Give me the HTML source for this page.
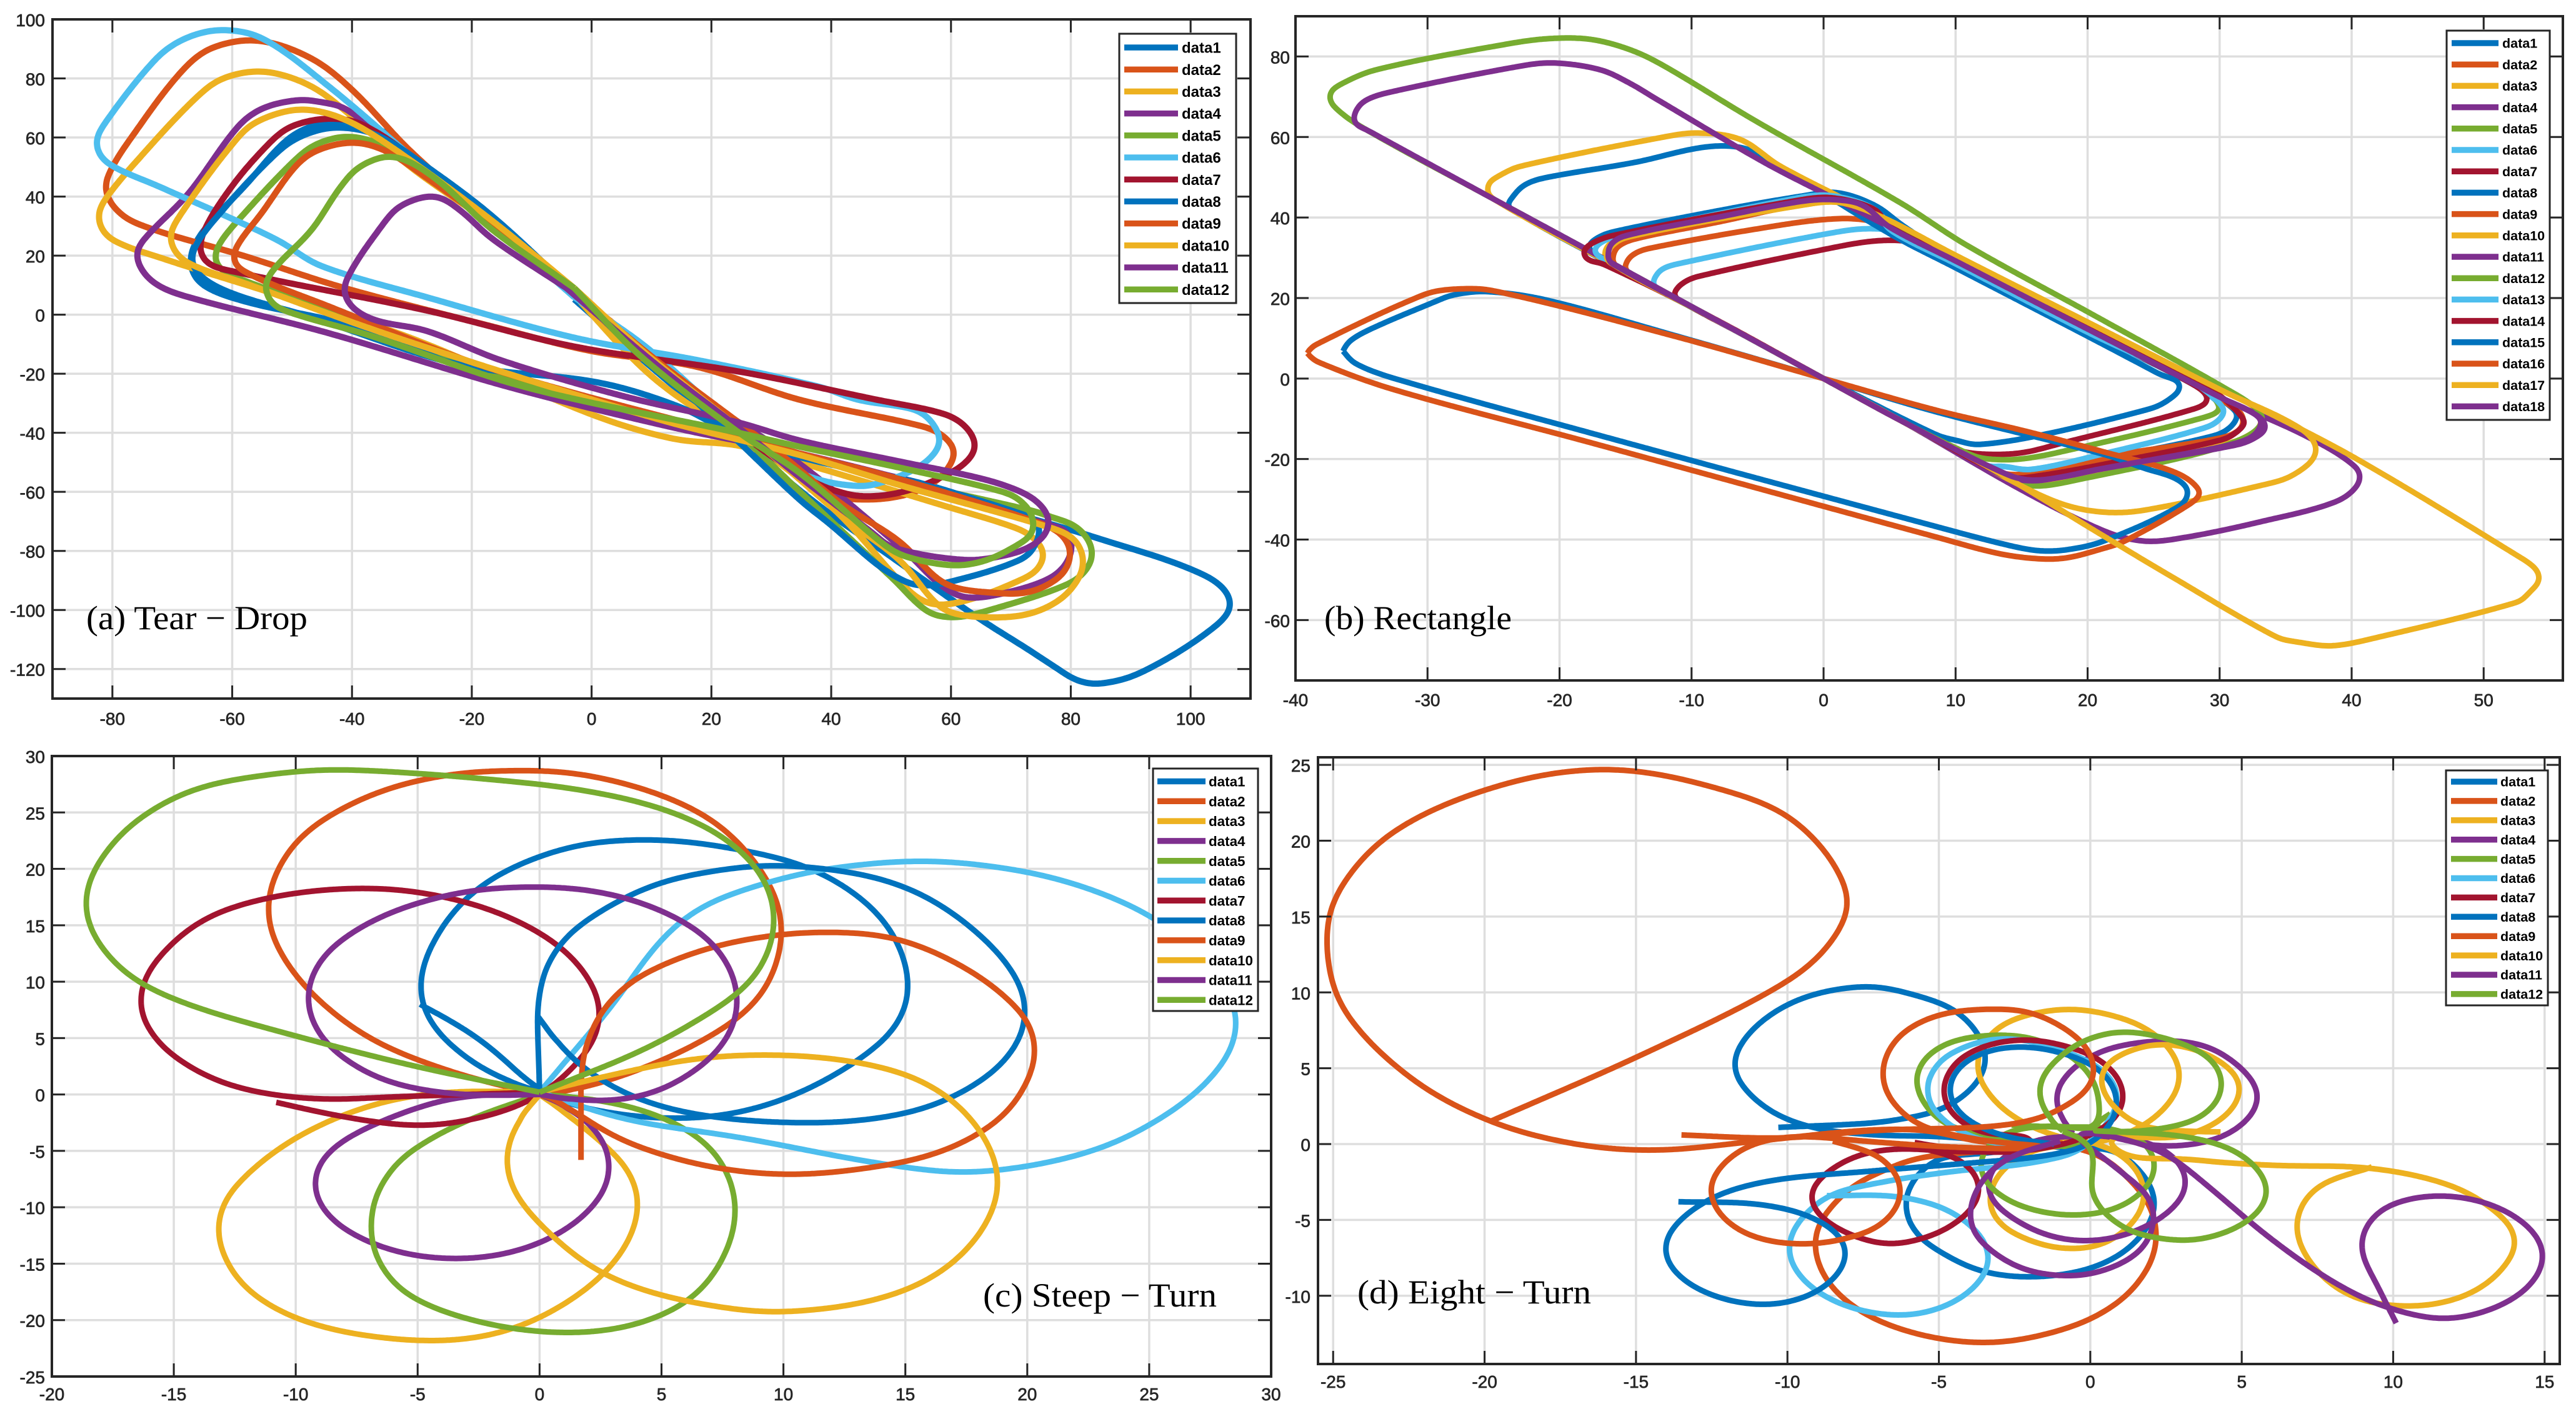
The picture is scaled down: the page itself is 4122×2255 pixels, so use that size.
<!DOCTYPE html>
<html lang="en">
<head>
<meta charset="utf-8">
<title>Flight trajectories: tear-drop, rectangle, steep turn and eight turn</title>
<style>
html,body{margin:0;padding:0;background:#fff;}
svg{display:block;}
.tick{font-family:"Liberation Sans",sans-serif;font-weight:400;font-size:28px;fill:#262626;stroke:#262626;stroke-width:.7px;}
.leg{font-family:"Liberation Sans",sans-serif;font-weight:700;fill:#000;}
.note{font-family:"Liberation Serif",serif;font-size:54px;fill:#000;}
</style>
</head>
<body>
<svg id="figure" xmlns="http://www.w3.org/2000/svg" width="4122" height="2255" viewBox="0 0 4122 2255">
<rect width="4122" height="2255" fill="#fff"/>
<g id="panels"></g>
<text class="note" x="138" y="1007" textLength="354" lengthAdjust="spacingAndGlyphs">(a) Tear − Drop</text>
<text class="note" x="2119" y="1007" textLength="300" lengthAdjust="spacingAndGlyphs">(b) Rectangle</text>
<text class="note" x="1573" y="2091" textLength="374" lengthAdjust="spacingAndGlyphs">(c) Steep − Turn</text>
<text class="note" x="2172" y="2086" textLength="374" lengthAdjust="spacingAndGlyphs">(d) Eight − Turn</text>
</svg>
<script>
// ---------- shared ----------
const seriesColors = ['#0072BD','#D95319','#EDB120','#7E2F8E','#77AC30','#4DBEEE','#A2142F'];

// ---------- panel (a) tear-drop ----------
const teardropXTicks = [-80,-60,-40,-20,0,20,40,60,80,100];
const teardropYTicks = [-120,-100,-80,-60,-40,-20,0,20,40,60,80,100];
const teardrop1 = [[-3.6,9],[-16.6,31.8],[-26.2,47.8],[-33,60],[-37.1,63.8],[-41.2,65.4],[-46,64.3],[-50.8,59.3],[-57.7,44],[-65.2,27.3],[-67,18.1],[-65.2,10.5],[-57.7,4.4],[-41.2,-3.2],[-11.1,-24.5],[24.5,-40.5],[34.7,-47.8],[55.6,-57.4],[72.9,-68.7],[83.4,-75],[102.6,-88.5],[106.7,-97.7],[103.3,-106.8],[91.6,-121.3],[84.8,-125],[81,-123.8],[77.5,-119.5],[72.9,-113.4],[64.2,-102.2],[50.3,-82.4],[38.2,-65],[27.3,-47],[10.8,-19.2],[-2.9,5.2]];
const teardrop2 = [[-3,7.5],[-16.6,31],[-30.3,55.5],[-39.9,76],[-46.7,86.7],[-55.6,92.8],[-63.2,90.5],[-67.9,83.6],[-75.5,63.8],[-81,45.6],[-80.3,37.9],[-76.2,31.1],[-57.7,19.7],[-41.2,9],[-16.6,-4],[-0.1,-12.3],[17.7,-17.7],[34.7,-28.8],[55.6,-38],[59,-41.5],[60.6,-46.4],[59.7,-51.4],[57.3,-56.7],[52.1,-61.2],[45.1,-62.6],[39.2,-60.5],[34.7,-52.1],[20.4,-30.6],[9.5,-12.3],[-3,7.5]];
const teardrop3 = [[-4,9],[-16.6,30.3],[-30.3,50.1],[-44,73.7],[-49.5,79.8],[-55.6,82.4],[-61.8,79.8],[-65.9,73.7],[-74.1,56.2],[-81.6,37.9],[-82.3,31.8],[-80.3,25.7],[-71.4,18.9],[-53.6,7.5],[-30.3,-7.8],[-0.1,-33.7],[13.6,-42],[24.5,-44.3],[34.7,-50],[59,-64.8],[71.2,-72.5],[74,-76],[75.5,-81],[74.3,-86.6],[71.2,-90.2],[64.2,-95.8],[58.3,-98.3],[54.9,-96.5],[51.4,-90.2],[41.7,-68.3],[31.4,-50.4],[10.8,-22.2],[-4,9]];
const teardrop4 = [[-3,8],[-16.6,31.8],[-30.3,53.2],[-41.2,69.9],[-44.7,71.8],[-48.8,72.7],[-54.9,69.9],[-59,63.8],[-67.3,41],[-75.5,23.5],[-75.8,18.1],[-73.4,11.3],[-68.6,6.7],[-44,-6.2],[-13.8,-24.5],[13.6,-38.2],[34.7,-47],[58.8,-59.6],[76,-71],[79.2,-73.2],[80.2,-78.2],[79.2,-84.5],[76.4,-89.4],[69.5,-94],[62.5,-95.8],[58.3,-91.6],[52.1,-79.6],[32.7,-47.4],[10.8,-18],[-3,8]];
const teardrop5 = [[-3,8],[-16.6,30.3],[-28.9,50.1],[-34.4,57],[-40.5,60.3],[-46,57.7],[-49.5,52.4],[-57.7,34.9],[-62.5,22.7],[-62.5,16.6],[-57.7,11.3],[-37.1,-3.2],[-13.8,-21.5],[24.5,-42],[34.7,-48],[51.9,-56.5],[73.8,-66.5],[76.4,-68.3],[80.9,-71.8],[83.4,-78.2],[83.2,-84.5],[79.9,-90.9],[65.3,-100.7],[60.4,-102.5],[56.2,-100.7],[50.3,-89.4],[34.7,-59.8],[24.5,-40],[10.8,-15.4],[-3,8]];
const teardrop6 = [[-2.9,5.9],[-16.6,30.3],[-30.3,53.9],[-44,77.5],[-54.9,93.5],[-61.8,96.4],[-67.9,93.5],[-72.7,86.7],[-81.6,63.8],[-82.7,57.7],[-81,51.6],[-72.1,43.3],[-61.8,34.1],[-52.2,25],[-45.3,16.6],[-27.5,5.9],[-2.9,-7.8],[17.7,-15.4],[38.2,-24.5],[44.4,-28.8],[54.2,-32.3],[56.9,-36.6],[58.2,-42.9],[56.9,-47.8],[54.2,-52.1],[49.6,-56],[45.1,-58.1],[36.4,-54.9],[28.6,-45.9],[9.5,-11.6],[-2.9,5.9]];
const teardrop7 = [[-3,7],[-16.6,31],[-30.3,53.9],[-38.5,64.6],[-44,66.4],[-50.1,63.8],[-53.6,58.5],[-60.4,42.5],[-65.2,25.7],[-64.5,18.1],[-59,14.3],[-27.5,1.4],[-2.9,-10.8],[24.5,-19.2],[47.6,-28.8],[59,-33.7],[62.5,-38],[64.1,-44.3],[62.9,-49.2],[59.7,-53.8],[52,-60],[45,-61.5],[39.9,-59.1],[36.8,-56.3],[28.6,-45.9],[9.5,-14],[-3,7]];
const teardrop8 = [[-3,8],[-16.6,33.4],[-27.5,50.1],[-35.8,60.8],[-42.6,63.4],[-48.1,60.8],[-52.2,55.5],[-61.8,34.9],[-66.6,21.2],[-65.9,14.3],[-60.4,7.5],[-46.7,-0.9],[-22.1,-16.9],[1.2,-23],[14.9,-31.4],[24.5,-41.3],[34.7,-48.2],[55.6,-57.7],[72.9,-68.3],[74.7,-71.1],[74.5,-76.1],[72.2,-82.4],[59,-90.9],[54.2,-91.6],[51.4,-89.4],[47.6,-84.5],[39.9,-71.1],[34.7,-62.6],[24,-42],[10.8,-16.9],[-3,8]];
const teardrop9 = [[-3,8],[-16.6,30.3],[-27.5,46.3],[-34.4,55.5],[-39.9,58.3],[-46,55.5],[-49.5,50.1],[-54.9,34.9],[-59.7,21.2],[-59,15.8],[-44,2.9],[-16.6,-18.4],[24.5,-41.3],[34.7,-47],[51.9,-56],[76.4,-71.8],[79.4,-76.8],[79.9,-82.4],[78.2,-88.7],[72.9,-94],[66,-94],[60.4,-92.3],[57.3,-88.7],[51.4,-76.8],[41.7,-64],[31.4,-47],[10.8,-15.4],[-3,8]];
const teardrop10 = [[-2.9,9],[-16.6,31.8],[-33,56.2],[-41.2,66.1],[-48.1,69.5],[-54.2,66.9],[-58.4,61.5],[-69.3,31.8],[-70.3,25],[-67.9,18.1],[-57.7,10.5],[-30.3,-9.3],[10.8,-35.2],[34.7,-47.5],[51.9,-58],[77.8,-72.9],[80.9,-76.8],[82.1,-83.1],[81.3,-89.4],[78.2,-96.5],[72.9,-101.4],[66,-102.5],[59.7,-100.7],[56.9,-96.5],[51.4,-83.1],[42.3,-69],[27.3,-42.8],[9.5,-13.9],[-2.9,9]];
const teardrop11 = [[-4.2,9],[-16.6,25.7],[-22.1,35.6],[-26.2,40.1],[-31.6,37.2],[-34.4,31.8],[-41.2,10.5],[-40.5,3.7],[-36.4,-1.7],[-27.5,-5.5],[-15.2,-15.4],[5.3,-27.6],[24.5,-36.5],[34.7,-42.6],[52.1,-50],[66,-56],[72.9,-61.2],[75.7,-66.2],[76.4,-70.4],[75.4,-75.3],[72.9,-78.9],[69.5,-81.3],[62.5,-83.1],[50.3,-78.9],[46.9,-73.9],[34.7,-54.9],[24.5,-38.2],[10.8,-16.9],[-4.2,9]];
const teardrop12 = [[-2.9,9],[-16.6,28.8],[-26.2,46.3],[-33,53.5],[-38.5,50.4],[-41.9,43.3],[-46.7,28.8],[-54.2,12],[-53.6,4.4],[-50.1,0.6],[-37.1,-7],[-11.1,-24.5],[24.5,-40],[34.7,-44.7],[52.1,-52.1],[69.5,-60.5],[72.2,-64.1],[73.6,-68.3],[73.6,-73.9],[71.5,-77.5],[66,-83.1],[60.4,-84.9],[52.1,-81.7],[48.6,-77.5],[34.7,-53.5],[24.5,-39.8],[8.1,-13.9],[-2.9,9]];
const teardropSeries = [teardrop1,teardrop2,teardrop3,teardrop4,teardrop5,teardrop6,teardrop7,teardrop8,teardrop9,teardrop10,teardrop11,teardrop12];

// ---------- panel (b) rectangle ----------
const rectangleXTicks = [-40,-30,-20,-10,0,10,20,30,40,50];
const rectangleYTicks = [-60,-40,-20,0,20,40,60,80];
const rectangle1 = [[0,0],[-9,16.1],[-17.6,31.4],[-17.8,33],[-17.1,35],[-16,36.4],[-7.8,41.8],[-1.5,45.4],[1,46.2],[3.9,43],[6,38],[10,29.5],[20,12],[28,-1.2],[31.3,-8.4],[31,-11.5],[29.7,-14.1],[21.2,-20],[15.7,-23.9],[14,-24],[12.5,-22.3],[6,-10.7],[0,0]];
const rectangle2 = [[0,0],[-8,14.3],[-15,26.8],[-15,28.3],[-14.6,30.4],[-13.4,32.2],[-3.1,38.2],[1,39.7],[3.5,39.2],[6,36.5],[9,31.8],[20,12.3],[28,-1.2],[31.6,-8.8],[31.7,-12],[30.3,-14.6],[21.2,-19.5],[15.7,-23.5],[14,-23.8],[12.5,-22.3],[6,-10.7],[0,0]];
const rectangle3 = [[0,0],[-8.5,15.2],[-16.4,29.3],[-16.6,30.9],[-16.2,33.5],[-15,35],[-1.2,43.3],[1.3,43.7],[4.5,40],[10,30.6],[20,14],[30,-2.7],[33,-8],[33.1,-11.5],[32.5,-13.5],[31,-15.8],[21,-22.8],[16.4,-25.8],[14.6,-25.6],[6,-10.7],[0,0]];
const rectangle4 = [[0,0],[-8.5,15.2],[-16.4,29.3],[-16.4,30.9],[-16.1,33],[-15,35],[-7.8,40],[-1.5,43.9],[1,44.2],[3,43],[5,37.6],[10,29.2],[20,12.3],[30,-4.6],[36.6,-14.4],[40.4,-22.3],[40.5,-26.2],[38.8,-30.6],[33.2,-35.5],[27.5,-39.4],[24.3,-40.4],[21.2,-37.8],[14.9,-27.5],[6,-10.7],[0,0]];
const rectangle5 = [[0,0],[-9,16.1],[-17.9,32],[-25,44.6],[-35.1,62.7],[-37.2,68],[-37.4,70.6],[-36.8,72.7],[-33.9,76.7],[-23.8,83.2],[-20.5,84.5],[-17.5,84.2],[-14.5,81.5],[-12,77.5],[-5.1,63.9],[5.8,43.7],[10.9,33],[20.6,15.5],[30.2,-2],[33,-8],[33.2,-11],[32,-14.5],[28.3,-18.7],[19.6,-24.9],[16.4,-26.7],[14.6,-25.7],[6,-10.7],[0,0]];
const rectangle6 = [[0,0],[-6.5,11.6],[-12.9,23],[-12.9,24.2],[-12.4,26.8],[-11.3,28.3],[1,36.4],[4,37.2],[7,35.5],[10,28.5],[20,11.5],[28,-1.5],[30.3,-7.3],[30.2,-9.4],[29.1,-12],[21.2,-18.7],[15.7,-22.6],[13.6,-21.8],[12.3,-21.6],[6,-10.7],[0,0]];
const rectangle7 = [[0,0],[-5.6,10],[-11.3,20.2],[-11.3,21.4],[-10.8,23.4],[-9.7,25.2],[1,32.7],[4,34.2],[6.5,34],[9.5,31],[12,26.5],[20,12],[28,-1.5],[29.1,-5],[28.3,-7.3],[18,-16.1],[14.9,-18.5],[11.7,-18.7],[10,-17.5],[6,-10.7],[0,0]];
const rectangle8 = [[0,0],[-12,21.4],[-23.9,42.6],[-23.6,44.9],[-22.7,48],[-21.2,49.8],[-14.3,53.7],[-9,57.5],[-6,57.2],[-3.5,53],[5,36],[10,27.5],[20,10.5],[25.5,1],[27,-1.65],[25.9,-5.8],[24.3,-7.9],[16.4,-14.1],[11.7,-16.4],[10.1,-15.4],[8.56,-14],[0,0]];
const rectangle9 = [[0,0],[-8,14.3],[-15.9,28.4],[-15.9,30.9],[-15.7,32.5],[-14.5,34.5],[-7.8,39],[-1.5,43.4],[1,43.9],[3.5,42],[5,38],[10,29.5],[20,12.5],[28,-1],[31.6,-8.5],[31.7,-12],[30.3,-14.8],[21.2,-20],[15.7,-24],[14,-24],[6,-10.7],[0,0]];
const rectangle10 = [[0,0],[-12.5,22.3],[-25.2,45],[-25.4,48.2],[-24.5,50.5],[-23,52.7],[-12.1,60],[-9.5,61],[-6.3,59.4],[-3.25,52.7],[5,39],[10,30.6],[20,14],[30,-2.7],[36.3,-12.8],[37.3,-18.3],[35.6,-23.9],[33.2,-26.5],[24.3,-32.7],[21.2,-33.2],[18,-31.1],[14,-25],[6,-10.7],[0,0]];
const rectangle11 = [[0,0],[-17.9,32],[-25,44.6],[-34.5,61.6],[-35.5,63.5],[-35.5,66],[-34.8,68.9],[-32.9,71.1],[-23,77.6],[-20.4,78.4],[-16.9,76.7],[-14.7,73.4],[-12.7,69.5],[-4.5,53.7],[1,44.4],[5,37.6],[10,29.2],[20,12.3],[30,-4.6],[33,-9.5],[33.5,-12.2],[32.8,-14.5],[31.4,-16.4],[21,-22.5],[18,-24.5],[15.7,-25.4],[13.5,-24],[6,-10.7],[0,0]];
const rectangle12 = [[0,0],[-8,14.3],[-16.2,28.9],[-16.3,32.3],[-15,35],[-1.2,43.9],[1.3,44.2],[3.5,42],[5,38],[10,29.5],[20,12.5],[28,-0.5],[30,-7.1],[29.1,-9.4],[18,-18.2],[14.9,-20],[12.5,-20],[11.2,-19],[6,-10.7],[0,0]];
const rectangle13 = [[0,0],[-8.8,15.7],[-17.2,30.7],[-17.3,32.6],[-16,35],[-1.9,44.9],[0.7,45.4],[3.9,42],[5,37],[10,28.5],[20,11.5],[28,-1],[30.3,-7.3],[30.2,-9.4],[29.1,-12],[21.2,-18.7],[15.7,-22.6],[13.6,-21.8],[12.3,-21.6],[6,-10.7],[0,0]];
const rectangle14 = [[0,0],[-9,16.1],[-16.8,28.6],[-17.8,29.4],[-18.2,31.4],[-17.6,33.5],[-16,35.5],[-1.9,44.3],[0.7,44.9],[3.9,42],[5,37.8],[10,29.5],[20,12.5],[29,-2],[31.9,-10.5],[31.4,-13],[30.3,-15.1],[22.8,-20.3],[16,-24.3],[14,-24.3],[6,-10.7],[0,0]];
const rectangle15 = [[-36.4,6.8],[-36,9],[-34.5,12],[-29.5,19],[-28,20.8],[-25.5,21.6],[-21,19.5],[-11.5,10.9],[0,0],[8.56,-8.3],[21.2,-18.8],[24.3,-22.3],[26.7,-24.9],[27.6,-28],[27,-31.6],[21.2,-40.4],[18.5,-42.5],[16.4,-42.8],[14.1,-41.5],[8.56,-36.8],[-17.9,-13.3],[-32.6,0.1],[-35.5,3.8],[-36.4,6.8]];
const rectangle16 = [[-39.1,6.3],[-38.7,8],[-30.3,20.8],[-28,22.2],[-25,21.8],[-11.5,10.7],[0,0],[8.56,-7.9],[15.2,-13],[21.2,-18.2],[26.7,-23.4],[28.5,-28],[28,-30.6],[22.8,-40.4],[21.2,-42.2],[18.5,-44.5],[16.4,-44.8],[13.3,-43.5],[8.56,-39.4],[-17.9,-15.7],[-32.6,-2.7],[-38.5,4.4],[-39.1,6.3]];
const rectangle17 = [[0,0],[-8.5,15.2],[-16.4,29.3],[-16.3,32],[-15,35],[-1.2,43.3],[1.3,43.7],[4.5,40],[10,30.6],[20,14],[30,-2.7],[33.4,-8],[40.4,-20],[52.6,-44.1],[54,-47.5],[54.2,-50.2],[53.5,-53],[52.6,-55.5],[41.7,-64.5],[38.5,-66.4],[36,-65.5],[34.3,-64.2],[26.1,-48.7],[21.2,-39.1],[13.3,-23.5],[6,-10.7],[0,0]];
const rectangle18 = [[0,0],[-8.5,15.2],[-16.3,29.1],[-16.3,30.4],[-16.2,33],[-15.2,35.3],[-7.8,40.2],[-1.5,44.1],[1,44.4],[3,43],[5,37.6],[10,29.2],[20,12.3],[30,-4.6],[33.1,-10],[32.8,-13.5],[31.7,-15.6],[29,-17.7],[21.2,-22.3],[16.4,-25.2],[14.1,-24.1],[6,-10.7],[0,0]];
const rectangleSeries = [rectangle1,rectangle2,rectangle3,rectangle4,rectangle5,rectangle6,rectangle7,rectangle8,rectangle9,rectangle10,rectangle11,rectangle12,rectangle13,rectangle14,rectangle15,rectangle16,rectangle17,rectangle18];

// ---------- panel (c) steep turn ----------
const steepXTicks = [-20,-15,-10,-5,0,5,10,15,20,25,30];
const steepYTicks = [-25,-20,-15,-10,-5,0,5,10,15,20,25,30];
const steep1 = [[-4.9,8],[-2.5,5],[0,0.2],[0,0.2],[1.4,-1],[4.8,-2.1],[8.2,-1.6],[11.5,1],[14.6,5.8],[15.2,9.7],[14.2,15.3],[11.5,19.7],[8.2,21.7],[4.5,22.6],[0.8,21.7],[-2.9,17.7],[-4.9,10.9],[-4.6,6.6],[-2.3,2.2],[0,0.2]];
const steep2 = [[0,0],[-3.3,1.8],[-7,5],[-9.7,9.7],[-11,14.1],[-11.2,17.3],[-10,22.5],[-7,26.5],[-3.9,28.3],[-1.4,28.7],[1.4,28.5],[4.8,26.7],[7.5,23.7],[9.5,18.5],[10,14.5],[9.2,9],[7.2,5.4],[4.1,2.2],[1.4,0.4],[0,0]];
const steep3 = [[0,0.2],[-3.9,0.2],[-7,-1],[-10.3,-4.2],[-12.7,-8.6],[-13.3,-11.5],[-12.4,-16.5],[-9.7,-20.1],[-5.3,-21.8],[-1.9,-21.3],[0.8,-18.9],[3.1,-14.9],[4.1,-10.5],[3.8,-7],[1.4,-2.2],[0,0]];
const steep4 = [[0,0],[-3.3,-0.2],[-6.3,-2.2],[-8.7,-5],[-9.4,-7.8],[-8.7,-10.9],[-6.3,-13.7],[-3.4,-14.6],[-0.6,-13.7],[1.8,-10.9],[3,-7],[2.6,-3.8],[1.4,-1.4],[0,0]];
const steep5 = [[0,0],[-3.3,-2.6],[-6,-6.2],[-6.8,-9.4],[-7,-12.5],[-6,-16.9],[-3.3,-19.7],[0.4,-21.1],[3.8,-20.5],[6.5,-17.7],[7.8,-13.3],[8.1,-9.7],[7.2,-5],[4.8,-1.8],[2.1,-0.4],[0,0]];
const steep6 = [[0,0.2],[1.4,3.8],[3.1,8.2],[4.8,13.3],[6.5,16.5],[8.9,18.5],[11.5,19.9],[15.3,20.7],[18.3,20.3],[21.6,18.9],[25,15.9],[27.4,11.7],[28.7,6.6],[28,2.6],[26,-1.4],[22.7,-5],[17.9,-6.9],[14.2,-6.2],[8.2,-3.8],[3.5,-2.2],[0,0.2]];
const steep7 = [[-10.8,-0.7],[-8,-2],[-4.9,-2.8],[-2.3,-2],[0.1,0],[2.1,4.2],[2.6,7.4],[1.4,12.1],[-1.2,15.7],[-4.3,17.7],[-7.3,18.3],[-11,17.5],[-14,15.3],[-16.1,10.9],[-16.5,8.2],[-15.7,4.6],[-13,1],[-9.3,-0.4],[-6,-0.2],[0,0.2]];
const steep8 = [[0,0.2],[-0.05,4],[-0.1,7],[0,9.7],[0.9,13.7],[4.1,18.1],[6.8,19.7],[10.2,20.3],[14.9,18.5],[18.3,13.7],[20,8.2],[19.3,3.4],[16.6,-0.6],[13.6,-2.2],[10.2,-2.5],[6.5,-1.8],[3.8,-0.2],[1.4,3],[-0.1,7]];
const steep9 = [[1.7,-5.8],[1.7,-5.8],[1.7,0.6],[1.7,2.6],[2.1,5.8],[3.5,9.7],[6.5,12.7],[9.2,14],[11.9,14.4],[14.9,13.7],[18.3,10.1],[20.3,5.8],[20.4,3.4],[19.3,-1.4],[16.6,-5],[13.2,-6.6],[9.9,-7.1],[6.5,-6.2],[3.1,-3.8],[0.8,-0.6],[0,0]];
const steep10 = [[0,0],[-1.2,-3.4],[-1.4,-7],[-0.6,-10.1],[2.1,-15.3],[4.8,-17.7],[8.2,-19.1],[9.9,-19.3],[13.2,-18.5],[15.9,-16.5],[17.9,-12.9],[18.9,-7.8],[17.9,-2.6],[15.9,1],[13.2,2.8],[9.9,3.5],[6.5,3.2],[3.1,1.8],[0,0.2]];
const steep11 = [[0,0],[-3.3,0],[-6.6,1.4],[-9,5],[-9.6,8.6],[-9,12.1],[-6.6,15.7],[-3.3,17.9],[-0.6,18.4],[2.1,18.1],[4.8,16.5],[7.2,13.3],[8.2,8.6],[7.5,4.2],[4.8,0.2],[2.1,-0.6],[0,0]];
const steep12 = [[0,0.2],[-5.3,2.6],[-10.7,5.6],[-14.7,8.2],[-17.1,10.9],[-18.6,15.3],[-18.6,18.5],[-17.1,23.3],[-14.4,26.9],[-11.3,28.3],[-8.7,28.8],[-5.3,28.5],[-1.9,27.9],[1.4,27.1],[4.8,25.5],[7.5,22.9],[9.2,19.3],[9.7,15.3],[8.9,10.5],[6.8,7],[4.1,3.8],[1.4,1.4],[0,0.2]];
const steepSeries = [steep1,steep2,steep3,steep4,steep5,steep6,steep7,steep8,steep9,steep10,steep11,steep12];

// ---------- panel (d) eight turn ----------
const eightXTicks = [-25,-20,-15,-10,-5,0,5,10,15];
const eightYTicks = [-10,-5,0,5,10,15,20,25];
const eight1 = [[-10.3,1.1],[-7.1,1.4],[-6.1,1.7],[-5,2.2],[-4.15,3.2],[-3.6,4.4],[-3.4,5.7],[-3.67,7.2],[-4.36,8.7],[-5.4,9.6],[-7.5,10.4],[-10.2,9],[-11.8,5.5],[-11,2.8],[-9.4,1.2],[-7.1,0.6],[-5,0.5],[-2.1,0],[-0.5,-0.3],[0.8,-0.4],[1.83,-2.2],[2.17,-3.7],[1.96,-5.3],[1.14,-7.1],[-0.24,-8.35],[-2.16,-8.77],[-3.67,-8.35],[-4.7,-7.4],[-5.74,-6],[-6.08,-4.65],[-6.15,-3.96],[-5.94,-2.6],[-5.05,-0.94],[-4,-0.7],[-2.5,-0.4],[-1,-0.1]];
const eight2 = [[-0.9,0.1],[-3.67,-0.5],[-5.74,-0.94],[-7.1,-2],[-8,-3],[-9.1,-6],[-8.6,-9.3],[-6.7,-11.9],[-3.6,-13.1],[-0.7,-12.1],[1.14,-10.1],[2.1,-7.4],[2.17,-5.33],[1.83,-3.55],[0.45,-0.9],[-0.9,-0.1],[-2.3,0],[-3.67,0.15],[-5.4,0.9],[-7.5,0.9],[-11,0.2],[-14.3,-0.4],[-17,0],[-19.8,1.5],[-22.4,4.3],[-24.6,8.7],[-25.2,12.6],[-24.9,16.4],[-23,20.6],[-19.4,23.7],[-15.9,24.7],[-12.4,23.5],[-9.7,21.2],[-8,16.4],[-8.6,13.2],[-10.2,10.5],[-14.8,5.9],[-19.8,1.5]];
const eight3 = [[-0.5,0.2],[-1.4,0.7],[-2.3,1.5],[-3,2.5],[-3.6,4],[-3.78,5.4],[-3.3,7.3],[-2.3,8.4],[-0.5,8.9],[1.48,8],[2.5,6.6],[3,4.7],[2.7,2.9],[1.8,1.26],[0.8,0.4],[-0.03,0],[-1.6,-0.25],[-2.64,-1.2],[-3.3,-2.85],[-3.37,-3.95],[-3,-5.3],[-1.95,-6.4],[-0.9,-6.9],[0.45,-6.6],[1.48,-5.05],[1.83,-3.4],[1.48,-1.5],[0.45,-0.1],[-0.3,0.2]];
const eight4 = [[-0.58,0.7],[-1.13,2.36],[-1.17,3.3],[-0.7,4.8],[0.45,6.2],[2.2,6.8],[3.6,6.6],[4.7,5.5],[5.6,3.1],[4.7,0.8],[3.1,-0.1],[1.7,0],[0.45,0.6],[-0.24,0.5],[-1.6,0.37],[-2.85,-0.8],[-3.4,-2.2],[-3.4,-3.3],[-2.85,-4.5],[-1.6,-5.9],[-0.24,-6.4],[1.14,-6],[2.5,-4.65],[3.2,-2.9],[3.06,-1.5],[2.2,-0.1],[0.45,0.6]];
const eight5 = [[0.66,2],[0.04,1.1],[-0.3,-0.1],[-2,0.1],[-3.5,0.6],[-4.8,1.3],[-5.4,2.4],[-5.8,4],[-5.6,5.4],[-4.7,6.7],[-3,7.2],[-1.6,6.8],[-0.25,5.2],[0.24,3.6],[0.3,1.5],[0.2,0.9],[-0.9,1.2],[-2.6,0.9],[-3.4,-0.1],[-3.7,-1.5],[-3.3,-2.9],[-2.3,-4.1],[-0.7,-4.7],[0.8,-4.3],[1.76,-3.1],[2.2,-1.5],[1.76,0.2],[0.45,1.1],[-0.7,1.1],[-2.6,1.25]];
const eight6 = [[-8.7,-3.4],[-6.2,-3.5],[-4.3,-4.8],[-3.3,-7.5],[-4.3,-10.2],[-6.4,-11.3],[-8.9,-9.9],[-10,-6.9],[-8.9,-3.7],[-7.1,-2.6],[-4.36,-1.76],[-2.3,-1.35],[-0.6,-0.66],[-0.1,-0.1],[0.93,2.6],[0.72,4.3],[-0.25,5.65],[-2.3,6.9],[-3.67,6.75],[-5.05,5.4],[-5.4,3.9],[-5.4,2.9],[-4.7,1.3],[-3.67,0.3],[-2.6,-0.1]];
const eight7 = [[-5.8,0.1],[-4.7,-0.25],[-2.5,-0.5],[-0.5,0.2],[0.6,1.26],[1.1,2.5],[1.07,3.9],[0.45,5.4],[-0.6,6.35],[-2.16,6.9],[-3.67,6.35],[-4.6,5.1],[-4.9,3.5],[-4.77,2.5],[-4.15,1.26],[-3.3,0.6],[-1.8,0.1],[-3.5,-0.5],[-5.3,-0.4],[-6.4,-0.3],[-8,-1],[-9.3,-3.4],[-8.5,-5.4],[-7.1,-6.5],[-6.4,-6.6],[-5.05,-5.9],[-4,-4.5],[-3.6,-3.1],[-3.8,-1.9],[-4.36,-0.94],[-5.3,-0.4],[-5.8,-0.2]];
const eight8 = [[-13.6,-3.8],[-10.8,-4],[-8.9,-5.1],[-8,-7.1],[-8.9,-9.6],[-10.9,-10.6],[-13.2,-9.3],[-14.1,-6.8],[-12.9,-4],[-10.8,-2.5],[-7.1,-1.76],[-3.67,-1.2],[-1.6,-0.8],[0,0],[0.8,1.7],[0.93,3],[0.45,4.7],[-0.6,5.8],[-1.95,6.4],[-3.3,6.2],[-4.36,5.1],[-4.7,3.7],[-4.5,2.4],[-3.8,1.26],[-2.6,0.4],[-1.2,0]];
const eight9 = [[-13.5,0.6],[-10.2,0.4],[-7.1,0.9],[-4.36,1.05],[-3.67,1.1],[-2.3,1.4],[-1.27,2],[-0.6,2.8],[0.1,4],[0,6.1],[-0.9,7.7],[-2,8.7],[-3.3,8.9],[-5.05,8.5],[-6.4,7],[-6.9,4.7],[-6.6,2.9],[-5.7,1.3],[-4.5,0.6],[-3,0.1],[-1.5,-0.2],[-4.5,-0.2],[-7.5,0.2],[-9.4,0.5],[-10.6,0.3],[-11.8,-0.7],[-12.6,-3.1],[-11.6,-5.7],[-9.4,-6.6],[-7.1,-5.6],[-6.35,-4.1],[-6.2,-3],[-6.56,-1.5],[-7.1,-0.66],[-8.5,0.2]];
const eight10 = [[4.3,0.8],[3.2,0.85],[1.8,1.1],[1.14,1.8],[0.6,2.8],[0.3,4],[0.45,5.2],[1.48,6.3],[2.5,6.6],[3.9,5.9],[5,3.9],[4.4,1.7],[2.8,0.4],[0.6,0],[3.3,-1],[6,-1.4],[9.3,-1.6],[12,-2.8],[13.6,-4.8],[14.1,-6.6],[12.8,-9.6],[10.5,-10.7],[8.2,-9.6],[6.8,-6],[7.3,-3.1],[9.3,-1.5]];
const eight11 = [[-1,0.2],[-2.8,-1],[-3.74,-2.86],[-4,-4.65],[-3.9,-5.75],[-3.3,-7],[-2.3,-8.2],[-0.9,-8.7],[0.45,-8.35],[1.83,-6.7],[2.1,-3.96],[1.48,-2.6],[0.45,-0.94],[0,-0.25],[-0.58,0.7],[1.14,0.3],[2.5,-0.66],[3.6,-2.3],[6,-6.3],[8.2,-9.3],[10,-10.9],[12,-11.5],[14.2,-9.9],[15,-7.2],[13.9,-4.6],[11.7,-3.4],[9.6,-4.3],[8.9,-6.6],[9.4,-9],[10.1,-11.8]];
const eight12 = [[-0.9,0.85],[-1.4,1.8],[-1.75,3.6],[-1.4,5],[-0.25,6.8],[1.4,7.4],[3.9,5.8],[4.4,3.7],[3.6,1.7],[1.4,0.8],[0,0.9],[3.1,0.5],[5,-0.7],[5.9,-3.1],[5.2,-5.1],[3.6,-6.3],[2.2,-6.2],[1.14,-5.6],[0.45,-4.5],[0.1,-3.7],[0,-2.6],[0.1,-0.25],[-0.9,0.85]];
const eightSeries = [eight1,eight2,eight3,eight4,eight5,eight6,eight7,eight8,eight9,eight10,eight11,eight12];

// ---------- layout ----------
const panelConfigs = [
 {key:'tear-drop', box:{l:84,r:2001,t:31,b:1118}, xlim:[-90,110], ylim:[-130,100], xt:teardropXTicks, yt:teardropYTicks, series:teardropSeries, sw:10, smooth:32,
  yLabelX:72, xLabelDy:42, legend:{l:1791,r:1978,t:54,b:485,r0:76,step:35.2,lx0:1799,lx1:1885,tx:1891,fs:24}},
 {key:'rectangle', box:{l:2073,r:4101,t:26,b:1089}, xlim:[-40,56], ylim:[-75,90], xt:rectangleXTicks, yt:rectangleYTicks, series:rectangleSeries, sw:9, smooth:18,
  yLabelX:2064, xLabelDy:41, legend:{l:3915,r:4080,t:49,b:672,r0:69,step:34.2,lx0:3923,lx1:3998,tx:4004,fs:21.5}},
 {key:'steep-turn', box:{l:83,r:2034,t:1210,b:2203}, xlim:[-20,30], ylim:[-25,30], xt:steepXTicks, yt:steepYTicks, series:steepSeries, sw:9, smooth:110,
  yLabelX:72, xLabelDy:38, legend:{l:1845,r:2013,t:1230,b:1618,r0:1250.5,step:31.8,lx0:1852,lx1:1929,tx:1934,fs:22.4}},
 {key:'eight-turn', box:{l:2109,r:4096,t:1212,b:2183}, xlim:[-25.5,15.5], ylim:[-14.5,25.5], xt:eightXTicks, yt:eightYTicks, series:eightSeries, sw:9, smooth:66,
  yLabelX:2097, xLabelDy:38, legend:{l:3914,r:4077,t:1233,b:1609,r0:1251,step:30.9,lx0:3922,lx1:3996,tx:4001,fs:21.5}}
];

const NS = 'http://www.w3.org/2000/svg';
function make(parent, tag, attrs){
  const el = document.createElementNS(NS, tag);
  for (const k in attrs) el.setAttribute(k, attrs[k]);
  parent.appendChild(el);
  return el;
}
// Spline through the points, densely sampled, then lightly filtered along the path so hand-read values give a clean curve.
function smoothPath(pts, windowPx){
  const STEP = 3;
  const tan = pts.map((p,i)=>{
    const a = pts[Math.max(0,i-1)], b = pts[Math.min(pts.length-1,i+1)];
    const dx = b[0]-a[0], dy = b[1]-a[1], n = Math.hypot(dx,dy)||1;
    return [dx/n, dy/n];
  });
  const fine = [pts[0]];
  for (let i=0;i<pts.length-1;i++){
    const p=pts[i], q=pts[i+1], L=Math.hypot(q[0]-p[0],q[1]-p[1]);
    if (L < 0.01) continue;
    const h=L/3, c1=[p[0]+tan[i][0]*h,p[1]+tan[i][1]*h], c2=[q[0]-tan[i+1][0]*h,q[1]-tan[i+1][1]*h];
    const n=Math.max(2,Math.ceil(L/STEP));
    for (let j=1;j<=n;j++){
      const t=j/n,u=1-t;
      fine.push([u*u*u*p[0]+3*u*u*t*c1[0]+3*u*t*t*c2[0]+t*t*t*q[0], u*u*u*p[1]+3*u*u*t*c1[1]+3*u*t*t*c2[1]+t*t*t*q[1]]);
    }
  }
  const K = Math.round(windowPx/2/STEP), N = fine.length;
  let d='';
  for (let i=0;i<N;i++){
    const k=Math.min(K,i,N-1-i);
    let sx=0,sy=0;
    for (let j=i-k;j<=i+k;j++){ sx+=fine[j][0]; sy+=fine[j][1]; }
    const m=2*k+1;
    d+=(i?'L':'M')+(sx/m).toFixed(1)+' '+(sy/m).toFixed(1);
  }
  return d;
}

const root = document.getElementById('panels');
panelConfigs.forEach(function(p){
  const b = p.box;
  const sx = v => b.l + (v - p.xlim[0]) / (p.xlim[1] - p.xlim[0]) * (b.r - b.l);
  const sy = v => b.b - (v - p.ylim[0]) / (p.ylim[1] - p.ylim[0]) * (b.b - b.t);

  const g = make(root, 'g', {});
  
  

  // grid
  const grid = make(g, 'g', {stroke:'#dedede', 'stroke-width':3.5});
  
  
  p.xt.forEach(v => make(grid, 'line', {x1:sx(v), x2:sx(v), y1:b.t, y2:b.b}));
  p.yt.forEach(v => make(grid, 'line', {x1:b.l, x2:b.r, y1:sy(v), y2:sy(v)}));

  // series
  const curves = make(g, 'g', {fill:'none', 'stroke-linejoin':'round', 'stroke-linecap':'butt'});
  
  
  p.series.forEach(function(s, i){
    const path = make(curves, 'path', {d:smoothPath(s.map(q => [sx(q[0]), sy(q[1])]), p.smooth), stroke:seriesColors[i % 7], 'stroke-width':p.sw});
    
    
  });

  // axes frame and ticks
  const axes = make(g, 'g', {stroke:'#262626', 'stroke-width':3, fill:'none'});
  
  
  make(axes, 'rect', {x:b.l, y:b.t, width:b.r-b.l, height:b.b-b.t, 'stroke-width':4});
  p.xt.forEach(function(v){
    make(axes, 'line', {x1:sx(v), x2:sx(v), y1:b.b, y2:b.b-21});
    make(axes, 'line', {x1:sx(v), x2:sx(v), y1:b.t, y2:b.t+21});
  });
  p.yt.forEach(function(v){
    make(axes, 'line', {x1:b.l, x2:b.l+21, y1:sy(v), y2:sy(v)});
    make(axes, 'line', {x1:b.r, x2:b.r-21, y1:sy(v), y2:sy(v)});
  });

  // tick labels
  p.xt.forEach(function(v){
    const t = make(g, 'text', {x:sx(v), y:b.b+p.xLabelDy, 'text-anchor':'middle', class:'tick'});
    t.textContent = String(v);
    
    
  });
  p.yt.forEach(function(v){
    const t = make(g, 'text', {x:p.yLabelX, y:sy(v)+11, 'text-anchor':'end', class:'tick'});
    t.textContent = String(v);
    
    
  });

  // legend
  const L = p.legend;
  const lg = make(g, 'g', {});
  
  
  make(lg, 'rect', {x:L.l, y:L.t, width:L.r-L.l, height:L.b-L.t, fill:'#fff', stroke:'#262626', 'stroke-width':3});
  p.series.forEach(function(s, i){
    const y = L.r0 + i * L.step;
    const entry = make(lg, 'g', {});
    
    
    make(entry, 'line', {x1:L.lx0, x2:L.lx1, y1:y, y2:y, stroke:seriesColors[i % 7], 'stroke-width':9.5});
    const t = make(entry, 'text', {x:L.tx, y:y+L.fs*0.36, class:'leg', 'font-size':L.fs});
    t.textContent = 'data' + (i + 1);
  });
});
</script>
</body>
</html>
